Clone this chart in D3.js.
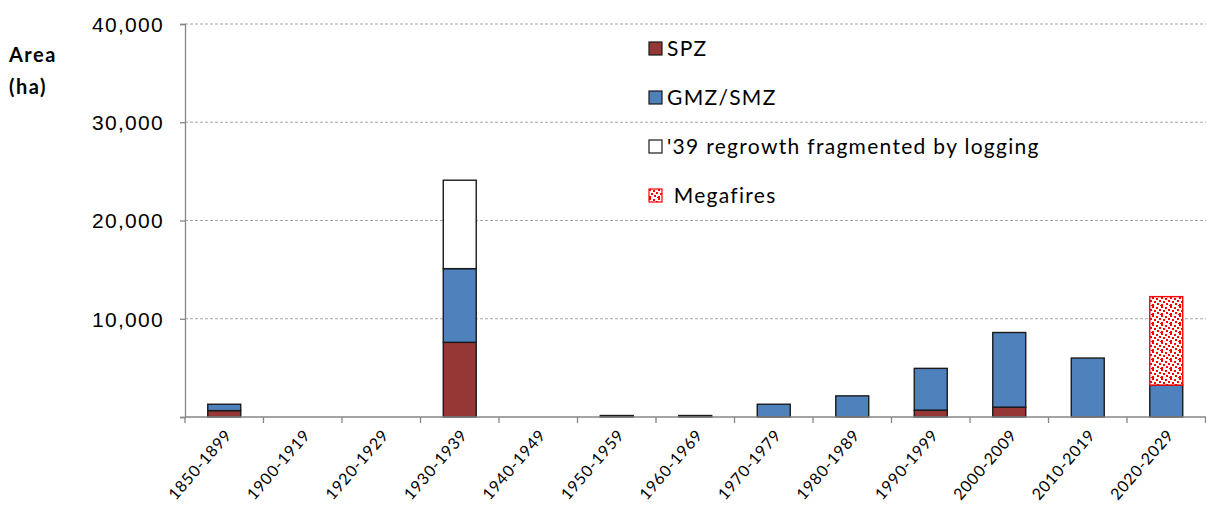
<!DOCTYPE html>
<html>
<head>
<meta charset="utf-8">
<script src="https://cdn.jsdelivr.net/npm/d3@7"></script>
<style>
	body { margin: 0; background: #fff; }
	svg { display: block; font-family: Lato, "Open Sans", sans-serif; }
	.tick-label { fill: #000; font-size: 21px; letter-spacing: 1.3px; }
</style>
</head>
<body>
<svg id="chart" width="1206" height="514"></svg>
<script>
const decades = ['1850-1899', '1900-1919', '1920-1929', '1930-1939', '1940-1949', '1950-1959', '1960-1969',
	'1970-1979', '1980-1989', '1990-1999', '2000-2009', '2010-2019', '2020-2029'];
const spz =       [650, 0, 0, 7600, 0, 0, 0, 0, 0, 700, 1000, 0, 0];
const gmzSmz =    [650, 0, 0, 7500, 0, 150, 150, 1300, 2150, 4250, 7600, 6000, 3250];
const regrowth =  [0, 0, 0, 9000, 0, 0, 0, 0, 0, 0, 0, 0, 0];
const megafires = [0, 0, 0, 0, 0, 0, 0, 0, 0, 0, 0, 0, 9000];
const yTicks = [0, 10000, 20000, 30000, 40000];

const series = [
	{ key: 'spz', name: 'SPZ', values: spz },
	{ key: 'gmz', name: 'GMZ/SMZ', values: gmzSmz },
	{ key: 'regrowth', name: "'39 regrowth fragmented by logging", values: regrowth },
	{ key: 'mega', name: ' Megafires', values: megafires }
];
const fills = { spz: '#953735', gmz: '#4f81bd', regrowth: '#ffffff', mega: 'url(#dots)' };
const strokes = { spz: '#1a1a1a', gmz: '#1a1a1a', regrowth: '#1a1a1a', mega: '#ff0000' };

const svg = d3.select('#chart');
const plotLeft = 185, plotRight = 1205.5, plotTop = 24, plotBottom = 417;

// dotted red fill like the excel pattern
const pat = svg.append('defs').append('pattern')
	.attr('id', 'dots')
	.attr('patternUnits', 'userSpaceOnUse')
	.attr('width', 9).attr('height', 9);
pat.append('rect').attr('width', 9).attr('height', 9).attr('fill', '#fff');
[[0, 0], [4, 1], [7, 3], [2, 4], [5, 6], [0, 7], [8, 8]].forEach(p => {
	pat.append('rect').attr('x', p[0]).attr('y', p[1]).attr('width', 2).attr('height', 2).attr('fill', '#ff0000');
});

const rows = decades.map((d, i) => {
	const r = { decade: d };
	series.forEach(s => r[s.key] = s.values[i]);
	return r;
});
const stacked = d3.stack().keys(series.map(s => s.key))(rows);

const xScale = d3.scaleBand()
	.domain(decades)
	.range([plotLeft, plotRight])
	.paddingInner(0.58)
	.paddingOuter(0.29);

const yScale = d3.scaleLinear()
	.domain([0, 40000])
	.range([plotBottom, plotTop]);

// gridlines
svg.append('g')
	.selectAll('line')
	.data(yTicks.filter(t => t > 0))
	.enter()
	.append('line')
	.attr('x1', plotLeft)
	.attr('x2', 1206)
	.attr('y1', d => yScale(d))
	.attr('y2', d => yScale(d))
	.attr('stroke', '#a6a6a6')
	.attr('stroke-width', 1.2)
	.attr('stroke-dasharray', '3,2');

// bars
stacked.forEach(layer => {
	svg.append('g')
		.selectAll('rect')
		.data(layer.filter(d => d[1] > d[0]))
		.enter()
		.append('rect')
		.attr('x', d => xScale(d.data.decade))
		.attr('width', xScale.bandwidth())
		.attr('y', d => yScale(d[1]))
		.attr('height', d => yScale(d[0]) - yScale(d[1]))
		.attr('fill', fills[layer.key])
		.attr('stroke', strokes[layer.key])
		.attr('stroke-width', 1.4);
});

// y axis (no label at zero, like the original)
const yAxis = d3.axisLeft(yScale)
	.tickValues(yTicks)
	.tickSize(5)
	.tickPadding(16)
	.tickFormat(d => d === 0 ? '' : d3.format(',')(d));
const yg = svg.append('g')
	.attr('transform', `translate(${plotLeft}, 0)`)
	.call(yAxis);
yg.select('.domain').attr('stroke', '#868686').attr('stroke-width', 1.3);
yg.selectAll('.tick line').attr('stroke', '#868686').attr('stroke-width', 1.3);
yg.selectAll('.tick text').attr('class', 'tick-label').attr('font-family', 'inherit').attr('dy', '0.35em');

// x axis: ticks between categories, labels rotated
const step = xScale.step();
const xg = svg.append('g');
xg.append('line')
	.attr('x1', plotLeft).attr('x2', 1206)
	.attr('y1', plotBottom).attr('y2', plotBottom)
	.attr('stroke', '#868686').attr('stroke-width', 1.3);
xg.selectAll('.xt')
	.data(d3.range(decades.length + 1))
	.enter()
	.append('line')
	.attr('x1', i => plotLeft + i * step)
	.attr('x2', i => plotLeft + i * step)
	.attr('y1', plotBottom)
	.attr('y2', plotBottom + 6)
	.attr('stroke', '#868686').attr('stroke-width', 1.3);
xg.selectAll('.xl')
	.data(decades)
	.enter()
	.append('text')
	.attr('transform', d => `translate(${xScale(d) + xScale.bandwidth() / 2 + 4}, ${plotBottom + 15}) rotate(-49)`)
	.attr('text-anchor', 'end')
	.attr('dy', '0.35em')
	.attr('font-size', 16)
	.attr('letter-spacing', 0.7)
	.attr('fill', '#000')
	.text(d => d);

// axis title
svg.append('text')
	.attr('x', 9).attr('y', 62)
	.attr('font-size', 20).attr('font-weight', 'bold')
	.attr('letter-spacing', 1.5)
	.text('Area');
svg.append('text')
	.attr('x', 9).attr('y', 94)
	.attr('font-size', 20).attr('font-weight', 'bold')
	.attr('letter-spacing', 1.5)
	.text('(ha)');

// legend
const legend = svg.append('g')
	.selectAll('g')
	.data(series)
	.enter()
	.append('g')
	.attr('transform', (d, i) => `translate(649, ${42 + i * 49})`);
legend.append('rect')
	.attr('width', 13).attr('height', 13)
	.attr('fill', d => fills[d.key])
	.attr('stroke', d => d.key === 'mega' ? '#ff0000' : '#1a1a1a')
	.attr('stroke-width', 1.2);
legend.append('text')
	.attr('x', 18).attr('y', 14)
	.attr('font-size', 21)
	.attr('letter-spacing', 1.3)
	.attr('fill', '#000')
	.style('white-space', 'pre')
	.text(d => d.name);
</script>
</body>
</html>
